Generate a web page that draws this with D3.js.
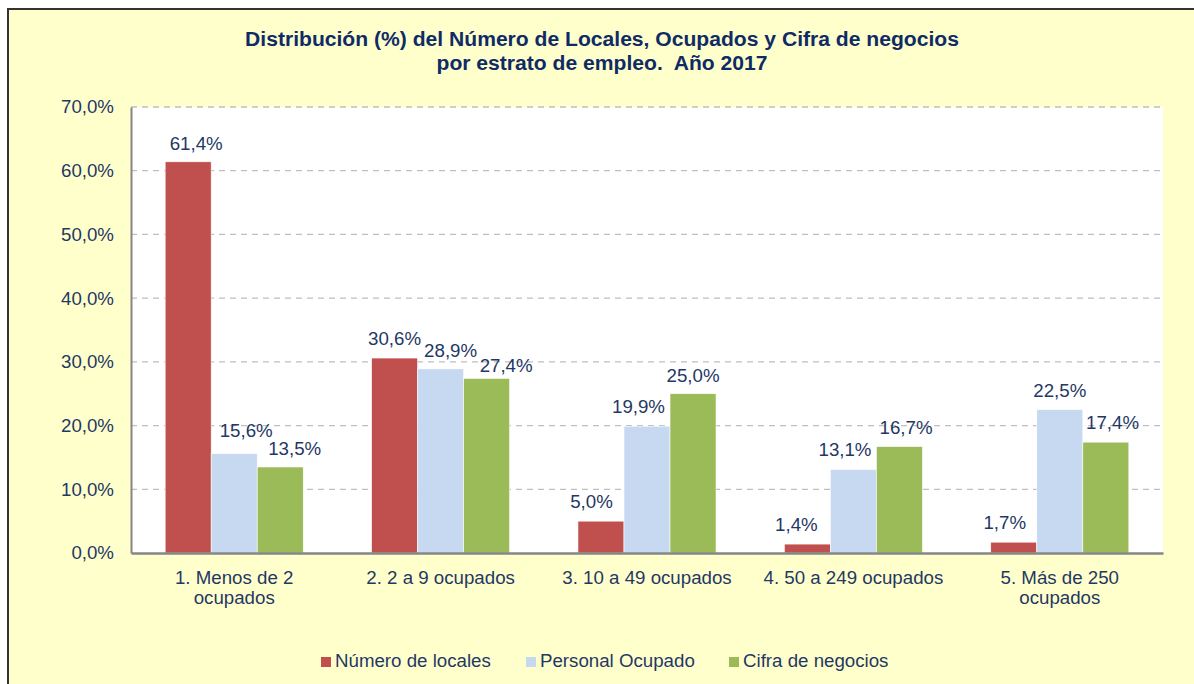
<!DOCTYPE html>
<html><head><meta charset="utf-8">
<script src="https://cdn.jsdelivr.net/npm/d3@7/dist/d3.min.js"></script>
<style>body{margin:0;background:#fff;}svg{display:block;font-family:"Liberation Sans",Arial,sans-serif;}</style>
</head><body>
<svg id="c" width="1194" height="684"></svg>
<script>
const categories = [["1. Menos de 2","ocupados"],["2. 2 a 9 ocupados"],["3. 10 a 49 ocupados"],["4. 50 a 249 ocupados"],["5. Más de 250","ocupados"]];
const seriesNames = ["Número de locales","Personal Ocupado","Cifra de negocios"];
const locales = [61.4, 30.6, 5.0, 1.4, 1.7];
const personal = [15.6, 28.9, 19.9, 13.1, 22.5];
const cifra = [13.5, 27.4, 25.0, 16.7, 17.4];
const yTicks = [0,10,20,30,40,50,60,70];

// styling: colours and label nudges (Excel-style overlap avoidance)
const colors = ["#C0504D","#C6D9F1","#9BBB59"];
const textColor = "#1F3864";
const fs = "18.7px";
const labelDx = [[8,0,-9.5,-11,-9],[12,10,-8.5,-8.4,0],[14.5,19.5,0,6.6,6.7]];
const labelDy = [[-12,-13,-13,-13,-13],[-17,-12,-13,-14,-13],[-12,-6.5,-12,-13,-13]];

const svg = d3.select("#c");
svg.append("rect").attr("x",8).attr("y",9).attr("width",1200).attr("height",700)
  .attr("fill","#FFFFCC").attr("stroke","#333").attr("stroke-width",2);

const pLeft=131, pRight=1163, pTop=107, pBottom=553;
const x0 = d3.scaleBand().domain(d3.range(categories.length)).range([pLeft,pRight]).paddingInner(0.331).paddingOuter(0.1655);
const x1 = d3.scaleBand().domain(d3.range(3)).range([0,x0.bandwidth()]);
const y = d3.scaleLinear().domain([0,70]).range([pBottom,pTop]);

svg.append("rect").attr("x",pLeft).attr("y",pTop).attr("width",pRight-pLeft).attr("height",pBottom-pTop).attr("fill","#fff");

const fmt = v => d3.format(".1f")(v).replace(".",",");

// gridlines
svg.append("g").selectAll("line").data(yTicks.filter(t=>t>0)).join("line")
  .attr("x1",pLeft).attr("x2",pRight).attr("y1",d=>y(d)).attr("y2",d=>y(d))
  .attr("stroke","#BFBFBF").attr("stroke-width",1.3).attr("stroke-dasharray","6,5");

// y axis
const yAxis = d3.axisLeft(y).tickValues(yTicks).tickSize(0).tickPadding(17).tickFormat(d=>fmt(d)+"%");
const gy = svg.append("g").attr("transform",`translate(${pLeft},0)`).call(yAxis);
gy.select(".domain").attr("stroke","#868686").attr("stroke-width",2);
gy.selectAll("text").attr("fill",textColor).style("font-size",fs).style("font-family","Liberation Sans, Arial, sans-serif");

const all = [locales, personal, cifra];
all.forEach((vals,si)=>{
  const g = svg.append("g");
  g.selectAll("rect").data(vals).join("rect")
    .attr("x",(d,i)=>x0(i)+x1(si)).attr("width",x1.bandwidth())
    .attr("y",d=>y(d)).attr("height",d=>y(0)-y(d))
    .attr("fill",colors[si]).attr("stroke","#fff").attr("stroke-width",0.6);
  g.selectAll("text").data(vals).join("text")
    .attr("x",(d,i)=>x0(i)+x1(si)+x1.bandwidth()/2+labelDx[si][i]).attr("y",(d,i)=>y(d)+labelDy[si][i])
    .attr("text-anchor","middle").attr("fill",textColor).style("font-size",fs)
    .text(d=>fmt(d)+"%");
});

// x axis
const xAxis = d3.axisBottom(x0).tickSize(0).tickFormat(()=> "");
const gx = svg.append("g").attr("transform",`translate(0,${pBottom})`).call(xAxis);
gx.select(".domain").attr("stroke","#868686").attr("stroke-width",2.5);
gx.selectAll(".tick").each(function(d){
  const t = d3.select(this).append("text").attr("fill",textColor).attr("text-anchor","middle")
    .style("font-size",fs).style("font-family","Liberation Sans, Arial, sans-serif");
  categories[d].forEach((line,k)=>t.append("tspan").attr("x",0).attr("y",31+k*20).text(line));
});

// title
const title = svg.append("text").attr("x",602).attr("text-anchor","middle").attr("fill","#0F2B66")
  .style("font-size","21.1px").style("font-weight","bold").style("white-space","pre");
title.append("tspan").attr("x",602).attr("y",46).text("Distribución (%) del Número de Locales, Ocupados y Cifra de negocios");
title.append("tspan").attr("x",602).attr("y",70).text("por estrato de empleo.  Año 2017");

// legend
const legX = [321, 526, 729];
const lg = svg.append("g");
seriesNames.forEach((n,i)=>{
  lg.append("rect").attr("x",legX[i]).attr("y",657).attr("width",10).attr("height",10).attr("fill",colors[i]);
  lg.append("text").attr("x",legX[i]+14).attr("y",667).attr("fill",textColor).style("font-size",fs).text(n);
});
</script>
</body></html>
